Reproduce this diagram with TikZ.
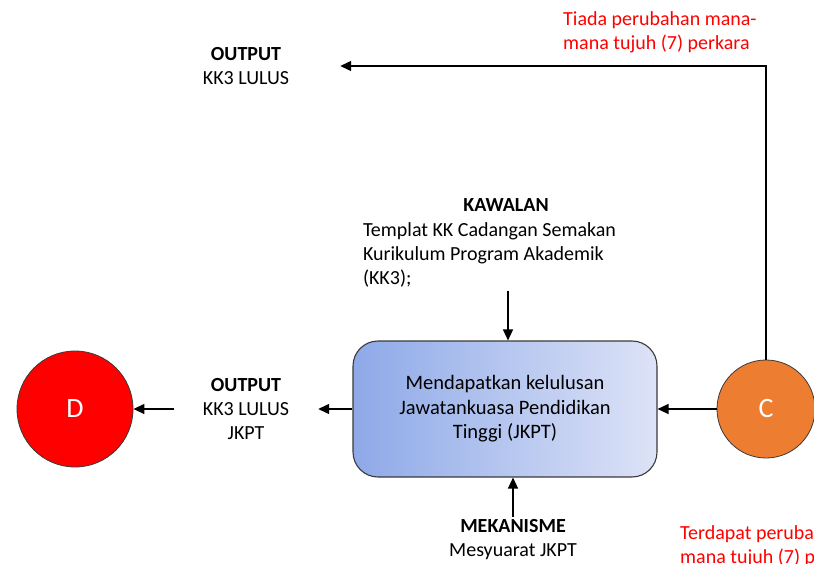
\documentclass[tikz,border=0pt]{standalone}
\usepackage{fontspec}
\setmainfont{Carlito}
\usepackage{tikz}
\usetikzlibrary{arrows.meta}
\usetikzlibrary{positioning}
\usetikzlibrary{shapes}
\definecolor{utmRed}{HTML}{FF0000}
\definecolor{utmOrange}{HTML}{ED7D31}
\definecolor{boxLeft}{HTML}{8EA9E8}
\definecolor{boxRight}{HTML}{DDE3F7}
\definecolor{boxBorder}{HTML}{3A3A3A}

\begin{document}
\begin{tikzpicture}[x=1pt,y=-1pt]
\tikzset{every node/.style={font=\fontsize{20}{24}\selectfont}}
\tikzset{FlowArrow/.style={line width=1.3pt, -{Triangle[length=11pt,width=10pt]}}}

\tikzset{StepCircle/.style={
  circle,
  draw=boxBorder,
  line width=0.8pt,
  text=white,
  inner sep=0pt,
  font=\fontsize{28}{30}\selectfont,
}}
\tikzset{ProcessBox/.style={
  draw=boxBorder,
  line width=1.1pt,
  rectangle,
  rounded corners=25pt,
  left color=boxLeft,
  right color=boxRight,
  align=center,
  minimum width=304pt,
  minimum height=136pt,
  font=\fontsize{20.5}{24.5}\selectfont,
}}
\tikzset{InfoText/.style={
  align=center,
  inner sep=3pt,
}}
\tikzset{NoteText/.style={
  align=left,
  text=utmRed,
  anchor=west,
  inner sep=0pt,
}}

\useasboundingbox (0,0) rectangle (814,564);

\node[StepCircle, fill=utmRed, minimum size=116pt] (d) at (75,409) {D};
\node[StepCircle, fill=utmOrange, minimum size=98pt] (c) at (766,409) {C};

\node[ProcessBox] (process) at (505,409) {Mendapatkan kelulusan\\
  Jawatankuasa Pendidikan\\ Tinggi (JKPT)};

\node[InfoText, minimum width=144pt] (outLeft) at (246,409)
  {\textbf{OUTPUT}\\ KK3 LULUS\\ JKPT};
\node[InfoText, minimum width=188pt] (outTop) at (246,66)
  {\textbf{OUTPUT}\\ KK3 LULUS};

\node[InfoText] (kawalanHead) at (506,205) {\textbf{KAWALAN}};
\node[align=flush left, text width=290pt, inner sep=3pt] (kawalan) at (508,255)
  {Templat KK Cadangan Semakan\\ Kurikulum Program Akademik\\ (KK3);};

\node[InfoText] (mekanisme) at (513,540) {\textbf{MEKANISME}\\ Mesyuarat JKPT};

\node[NoteText] (noteTop) at (563,32) {Tiada perubahan mana-\\ mana tujuh (7) perkara};
\node[NoteText] (noteBottom) at (680,546) {Terdapat perubahan mana-\\ mana tujuh (7) perkara};

% connectors
\draw[FlowArrow] (c.west) -- (process.east);
\draw[FlowArrow] (process.west) -- (outLeft.east);
\draw[FlowArrow] (outLeft.west) -- (d.east);
\draw[FlowArrow] (kawalan.south) -- (kawalan.south |- process.north);
\draw[FlowArrow] (mekanisme.north) -- (mekanisme.north |- process.south);
\draw[FlowArrow] (c.north) |- (outTop.east);
\end{tikzpicture}
\end{document}
